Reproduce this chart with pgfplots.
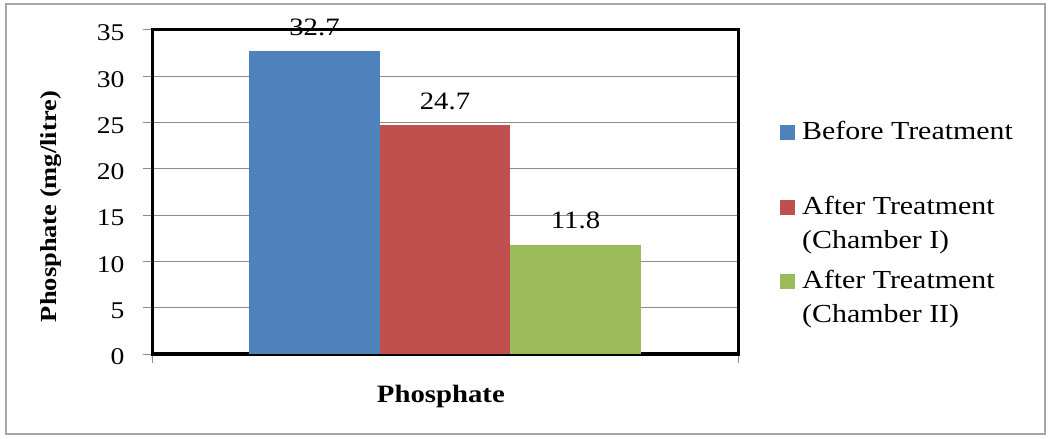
\documentclass[border=0pt]{standalone}
\usepackage{pgfplots}
\pgfplotsset{compat=1.18}
\usepackage{fontspec}
\setmainfont[FakeStretch=1.15]{Liberation Serif}
\definecolor{cBlue}{HTML}{4F81BD}
\definecolor{cRed}{HTML}{C0504D}
\definecolor{cGreen}{HTML}{9BBB59}
\definecolor{cGrid}{HTML}{8C8C8C}
\definecolor{cBorder}{HTML}{A6A6A6}
\begin{document}
\begin{tikzpicture}
\path[use as bounding box] (0bp,0bp) rectangle (1049bp,439bp);
\draw[cBorder, line width=1.5bp] (6bp,5bp) rectangle (1045bp,435bp);
\begin{axis}[
  at={(152bp,85bp)}, anchor=south west,
  scale only axis, width=586bp, height=324bp,
  xmin=-0.5, xmax=0.5, ymin=0, ymax=35,
  ytick={0,5,...,35},
  xtick={-0.5,0.5}, xticklabels={},
  xtick pos=bottom, ytick pos=left,
  tick align=outside, major tick length=9bp,
  tick style={cGrid, line width=1bp},
  axis line style={black, line width=3bp},
  ymajorgrids, grid style={cGrid, line width=1bp},
  /pgf/number format/assume math mode=true,
  yticklabel style={font=\fontsize{24bp}{28bp}\selectfont, xshift=-15bp, yshift=-3bp},
  ylabel={\textbf{Phosphate (mg/litre)}},
  ylabel style={at={(axis description cs:-0.172,0.455)}, anchor=center, rotate=0, font=\fontsize{23bp}{27bp}\selectfont},
  xlabel={\textbf{Phosphate}},
  xlabel style={at={(axis description cs:0.493,-0.13)}, anchor=center, font=\fontsize{25bp}{29bp}\selectfont},
  clip=false,
  nodes near coords,
  every node near coord/.append style={anchor=center, yshift=24bp, font=\fontsize{25bp}{29bp}\selectfont, /pgf/number format/fixed, /pgf/number format/precision=1, /pgf/number format/fixed zerofill},
  legend style={at={(axis description cs:1.0717,0.72)}, anchor=north west, draw=none, fill=none,
    font=\fontsize{26bp}{34bp}\selectfont, row sep=21bp, column sep=7bp, inner sep=0pt,
    nodes={align=left, inner sep=0pt, outer sep=0pt}},
  legend cell align=left,
  legend image code/.code={\fill[#1] (0bp,8bp) rectangle (15bp,23bp);},
]
\addplot[ybar, bar width=0.2227, bar shift=0pt, fill=cBlue, draw=none] coordinates {(-0.2227,32.7)};
\addplot[ybar, bar width=0.2227, bar shift=0pt, fill=cRed, draw=none] coordinates {(0,24.7)};
\addplot[ybar, bar width=0.2227, bar shift=0pt, fill=cGreen, draw=none] coordinates {(0.2227,11.8)};
\legend{Before Treatment\\\mbox{}, After Treatment\\(Chamber I), After Treatment\\(Chamber II)}
\end{axis}
\end{tikzpicture}
\end{document}
